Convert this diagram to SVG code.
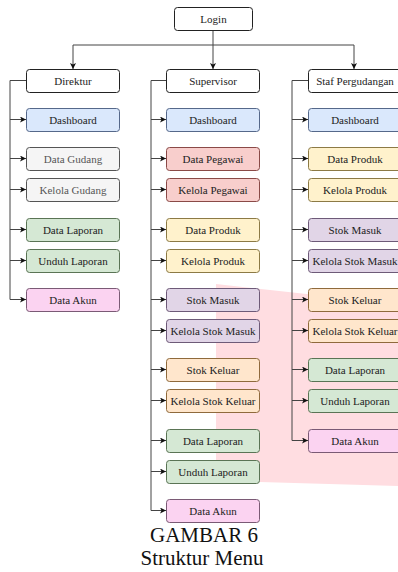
<svg xmlns="http://www.w3.org/2000/svg" width="398" height="572" viewBox="0 0 398 572">
<style>
.b{stroke-width:1}
.t{font-family:"Liberation Serif","Times New Roman",serif;font-size:11px;fill:#222;text-anchor:middle;dominant-baseline:central}
.w{fill:#ffffff;stroke:#222}
.bl{fill:#dae8fc;stroke:#55688a}
.gr{fill:#f5f5f5;stroke:#555}
.rd{fill:#f8cecc;stroke:#8a4a47}
.yl{fill:#fff2cc;stroke:#8c7a45}
.pu{fill:#e1d5e7;stroke:#6d5a78}
.or{fill:#ffe6cc;stroke:#8f6a3c}
.gn{fill:#d5e8d4;stroke:#5a7455}
.pk{fill:#fbd3f1;stroke:#7a5a75}
.c{fill:none;stroke:#444;stroke-width:1}
.cap{font-family:"Liberation Serif","Times New Roman",serif;font-size:21px;fill:#111;text-anchor:middle}
</style>
<defs>
<marker id="ah" markerWidth="6" markerHeight="6" refX="6" refY="3" orient="auto" markerUnits="userSpaceOnUse">
<path d="M0,0 L6,3 L0,6 L1.5,3 Z" fill="#111"/>
</marker>
</defs>
<polygon points="216,284 398,304 398,486 260,482 216,482" fill="#ffdde1"/>
<g id="connectors">
<path class="c" d="M213,30 V69" marker-end="url(#ah)"/>
<path class="c" d="M213,45 H73 V69" marker-end="url(#ah)"/>
<path class="c" d="M213,45 H354 V69" marker-end="url(#ah)"/>
<path class="c" d="M26,80.5 H10 V299.5"/>
<path class="c" d="M10,119.5 H26" marker-end="url(#ah)"/>
<path class="c" d="M10,158.5 H26" marker-end="url(#ah)"/>
<path class="c" d="M10,189.5 H26" marker-end="url(#ah)"/>
<path class="c" d="M10,229.5 H26" marker-end="url(#ah)"/>
<path class="c" d="M10,260.5 H26" marker-end="url(#ah)"/>
<path class="c" d="M10,299.5 H26" marker-end="url(#ah)"/>
<path class="c" d="M166,80.5 H151 V510.5"/>
<path class="c" d="M151,119.5 H166" marker-end="url(#ah)"/>
<path class="c" d="M151,158.5 H166" marker-end="url(#ah)"/>
<path class="c" d="M151,189.5 H166" marker-end="url(#ah)"/>
<path class="c" d="M151,229.5 H166" marker-end="url(#ah)"/>
<path class="c" d="M151,260.5 H166" marker-end="url(#ah)"/>
<path class="c" d="M151,299.5 H166" marker-end="url(#ah)"/>
<path class="c" d="M151,330.5 H166" marker-end="url(#ah)"/>
<path class="c" d="M151,369.5 H166" marker-end="url(#ah)"/>
<path class="c" d="M151,400.5 H166" marker-end="url(#ah)"/>
<path class="c" d="M151,440.5 H166" marker-end="url(#ah)"/>
<path class="c" d="M151,471.5 H166" marker-end="url(#ah)"/>
<path class="c" d="M151,510.5 H166" marker-end="url(#ah)"/>
<path class="c" d="M308,80.5 H292 V440.5"/>
<path class="c" d="M292,119.5 H308" marker-end="url(#ah)"/>
<path class="c" d="M292,158.5 H308" marker-end="url(#ah)"/>
<path class="c" d="M292,189.5 H308" marker-end="url(#ah)"/>
<path class="c" d="M292,229.5 H308" marker-end="url(#ah)"/>
<path class="c" d="M292,260.5 H308" marker-end="url(#ah)"/>
<path class="c" d="M292,299.5 H308" marker-end="url(#ah)"/>
<path class="c" d="M292,330.5 H308" marker-end="url(#ah)"/>
<path class="c" d="M292,369.5 H308" marker-end="url(#ah)"/>
<path class="c" d="M292,400.5 H308" marker-end="url(#ah)"/>
<path class="c" d="M292,440.5 H308" marker-end="url(#ah)"/>
</g>
<g id="login"><rect class="w" x="174.5" y="7.5" width="78" height="23" rx="3"/><text class="t" x="213.5" y="19">Login</text></g>
<g id="direktur"><rect class="w" x="26.5" y="69.5" width="93" height="23" rx="3"/><text class="t" x="73" y="81">Direktur</text></g>
<g id="supervisor"><rect class="w" x="166.5" y="69.5" width="93" height="23" rx="3"/><text class="t" x="213" y="81">Supervisor</text></g>
<g id="staf"><rect class="w" x="308.5" y="69.5" width="93" height="23" rx="3"/><text class="t" x="355" y="81">Staf Pergudangan</text></g>

<g id="d-dashboard"><rect class="bl" x="26.5" y="108.5" width="93" height="23" rx="3"/><text class="t" x="73" y="120">Dashboard</text></g>
<g id="d-datagudang"><rect class="gr" x="26.5" y="147.5" width="93" height="23" rx="3"/><text class="t" x="73" y="159" style="fill:#555">Data Gudang</text></g>
<g id="d-kelolagudang"><rect class="gr" x="26.5" y="178.5" width="93" height="23" rx="3"/><text class="t" x="73" y="190" style="fill:#555">Kelola Gudang</text></g>
<g id="d-datalaporan"><rect class="gn" x="26.5" y="218.5" width="93" height="23" rx="3"/><text class="t" x="73" y="230">Data Laporan</text></g>
<g id="d-unduhlaporan"><rect class="gn" x="26.5" y="249.5" width="93" height="23" rx="3"/><text class="t" x="73" y="261">Unduh Laporan</text></g>
<g id="d-dataakun"><rect class="pk" x="26.5" y="288.5" width="93" height="23" rx="3"/><text class="t" x="73" y="300">Data Akun</text></g>

<g id="s-dashboard"><rect class="bl" x="166.5" y="108.5" width="93" height="23" rx="3"/><text class="t" x="213" y="120">Dashboard</text></g>
<g id="s-datapegawai"><rect class="rd" x="166.5" y="147.5" width="93" height="23" rx="3"/><text class="t" x="213" y="159">Data Pegawai</text></g>
<g id="s-kelolapegawai"><rect class="rd" x="166.5" y="178.5" width="93" height="23" rx="3"/><text class="t" x="213" y="190">Kelola Pegawai</text></g>
<g id="s-dataproduk"><rect class="yl" x="166.5" y="218.5" width="93" height="23" rx="3"/><text class="t" x="213" y="230">Data Produk</text></g>
<g id="s-kelolaproduk"><rect class="yl" x="166.5" y="249.5" width="93" height="23" rx="3"/><text class="t" x="213" y="261">Kelola Produk</text></g>
<g id="s-stokmasuk"><rect class="pu" x="166.5" y="288.5" width="93" height="23" rx="3"/><text class="t" x="213" y="300">Stok Masuk</text></g>
<g id="s-kelolastokmasuk"><rect class="pu" x="166.5" y="319.5" width="93" height="23" rx="3"/><text class="t" x="213" y="331">Kelola Stok Masuk</text></g>
<g id="s-stokkeluar"><rect class="or" x="166.5" y="358.5" width="93" height="23" rx="3"/><text class="t" x="213" y="370">Stok Keluar</text></g>
<g id="s-kelolastokkeluar"><rect class="or" x="166.5" y="389.5" width="93" height="23" rx="3"/><text class="t" x="213" y="401">Kelola Stok Keluar</text></g>
<g id="s-datalaporan"><rect class="gn" x="166.5" y="429.5" width="93" height="23" rx="3"/><text class="t" x="213" y="441">Data Laporan</text></g>
<g id="s-unduhlaporan"><rect class="gn" x="166.5" y="460.5" width="93" height="23" rx="3"/><text class="t" x="213" y="472">Unduh Laporan</text></g>
<g id="s-dataakun"><rect class="pk" x="166.5" y="499.5" width="93" height="23" rx="3"/><text class="t" x="213" y="511">Data Akun</text></g>

<g id="g-dashboard"><rect class="bl" x="308.5" y="108.5" width="93" height="23" rx="3"/><text class="t" x="355" y="120">Dashboard</text></g>
<g id="g-dataproduk"><rect class="yl" x="308.5" y="147.5" width="93" height="23" rx="3"/><text class="t" x="355" y="159">Data Produk</text></g>
<g id="g-kelolaproduk"><rect class="yl" x="308.5" y="178.5" width="93" height="23" rx="3"/><text class="t" x="355" y="190">Kelola Produk</text></g>
<g id="g-stokmasuk"><rect class="pu" x="308.5" y="218.5" width="93" height="23" rx="3"/><text class="t" x="355" y="230">Stok Masuk</text></g>
<g id="g-kelolastokmasuk"><rect class="pu" x="308.5" y="249.5" width="93" height="23" rx="3"/><text class="t" x="355" y="261">Kelola Stok Masuk</text></g>
<g id="g-stokkeluar"><rect class="or" x="308.5" y="288.5" width="93" height="23" rx="3"/><text class="t" x="355" y="300">Stok Keluar</text></g>
<g id="g-kelolastokkeluar"><rect class="or" x="308.5" y="319.5" width="93" height="23" rx="3"/><text class="t" x="355" y="331">Kelola Stok Keluar</text></g>
<g id="g-datalaporan"><rect class="gn" x="308.5" y="358.5" width="93" height="23" rx="3"/><text class="t" x="355" y="370">Data Laporan</text></g>
<g id="g-unduhlaporan"><rect class="gn" x="308.5" y="389.5" width="93" height="23" rx="3"/><text class="t" x="355" y="401">Unduh Laporan</text></g>
<g id="g-dataakun"><rect class="pk" x="308.5" y="429.5" width="93" height="23" rx="3"/><text class="t" x="355" y="441">Data Akun</text></g>

<text class="cap" x="204" y="542">GAMBAR 6</text>
<text class="cap" x="202" y="565">Struktur Menu</text>
</svg>
